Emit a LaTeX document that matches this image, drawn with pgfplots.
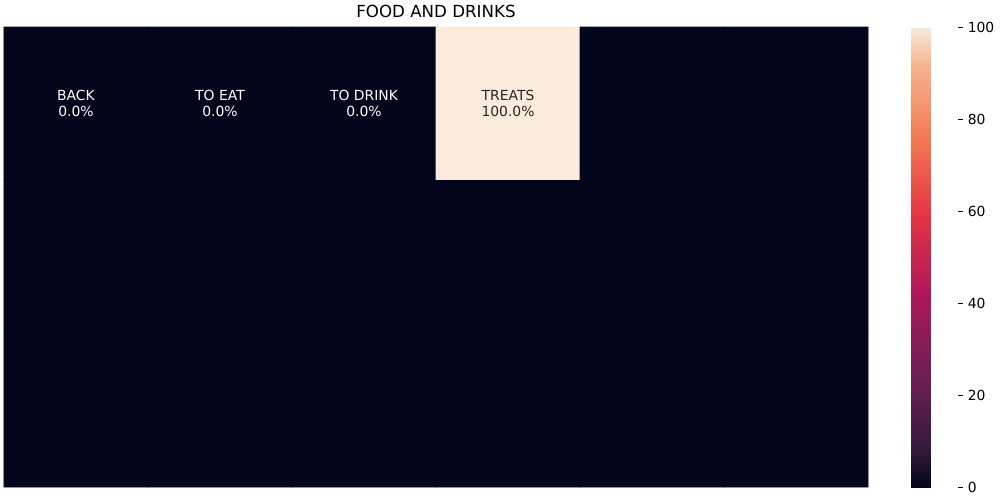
\documentclass[border=0pt]{standalone}
\usepackage{fontspec}
\setmainfont{DejaVu Sans}
\usepackage{pgfplots}
\pgfplotsset{compat=1.18}
\definecolor{txtdark}{HTML}{262626}
\definecolor{rocketdark}{RGB}{3,5,26}
\begin{document}
\begin{tikzpicture}
\path[use as bounding box] (-2.88pt,-9.36pt) rectangle (717.12pt,350.64pt);
\begin{axis}[
  at={(0,0)}, anchor=south west,
  scale only axis, width=622.08pt, height=331.2pt,
  xmin=-0.5, xmax=5.5, ymin=-0.5, ymax=2.5, y dir=reverse,
  xtick=\empty, ytick=\empty,
  axis line style={draw=none},
  axis background/.style={fill=rocketdark},
  clip=false,
  colormap={rocket}{
    rgb255(0)=(3,5,26)
    rgb255(0.0833)=(53,25,62)
    rgb255(0.25)=(112,31,87)
    rgb255(0.4167)=(173,23,89)
    rgb255(0.5833)=(225,51,66)
    rgb255(0.75)=(243,118,81)
    rgb255(0.9167)=(246,180,143)
    rgb255(1)=(250,235,221)
  },
  point meta min=0, point meta max=100,
  colorbar right,
  colorbar shift/.style={xshift=30.96pt},
  colorbar style={
    at={(parent axis.north east)}, anchor=north west,
    width=33.84pt,
    axis line style={draw=none},
    ytick={0,20,40,60,80,100},
    ytick pos=right,
    tick align=outside,
    major tick length=3.5pt,
    tick style={black, line width=0.6pt},
    yticklabel style={font=\fontsize{10}{12}\selectfont},
    /pgf/number format/assume math mode=true,
  },
]
\addplot[matrix plot*, mesh/cols=6, mesh/rows=3, point meta=explicit, draw=none]
  table[meta=v] {
x y v
0 0 0
1 0 0
2 0 0
3 0 100
4 0 0
5 0 0
0 1 0
1 1 0
2 1 0
3 1 0
4 1 0
5 1 0
0 2 0
1 2 0
2 2 0
3 2 0
4 2 0
5 2 0
};
\begin{scope}[every node/.style={align=center, font=\fontsize{10}{11.4}\selectfont}]
\node[white] at (axis cs:0,0) {BACK\\0.0\%};
\node[white] at (axis cs:1,0) {TO EAT\\0.0\%};
\node[white] at (axis cs:2,0) {TO DRINK\\0.0\%};
\node[txtdark] at (axis cs:3,0) {TREATS\\100.0\%};
\end{scope}
\node[anchor=base, inner sep=0pt, yshift=7pt, font=\fontsize{12}{14}\selectfont] at (rel axis cs:0.5,1) {FOOD AND DRINKS};
\end{axis}
\end{tikzpicture}
\end{document}
